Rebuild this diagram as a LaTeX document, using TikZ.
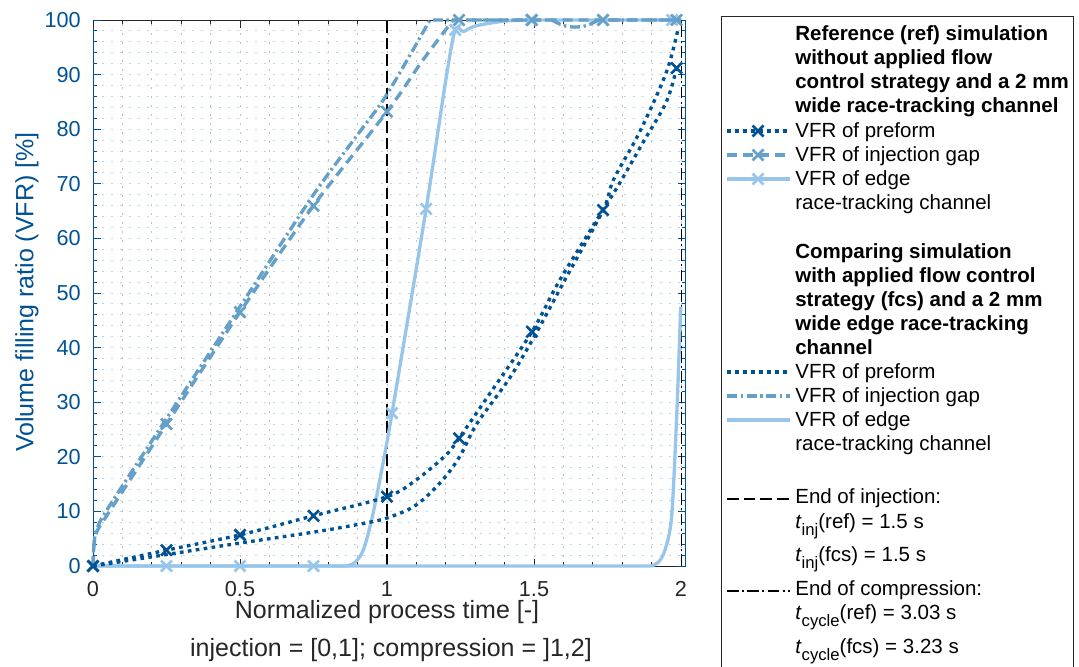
\documentclass[tikz,border=0pt]{standalone}
\usepackage{fontspec}
\setmainfont{Liberation Sans}
\definecolor{VfrDark}{RGB}{0,82,147}
\definecolor{VfrMedium}{RGB}{100,160,200}
\definecolor{VfrLight}{RGB}{152,198,234}
\definecolor{AxisGray}{RGB}{38,38,38}
\definecolor{GridGray}{RGB}{195,195,195}
\definecolor{GridBlue}{RGB}{190,214,234}

\tikzset{
  xmark/.pic={\draw[line width=1.6pt] (-3.3pt,-3.3pt) -- (3.3pt,3.3pt) (-3.3pt,3.3pt) -- (3.3pt,-3.3pt);}
}
\newcommand\tvar[1]{\textit{t}\raisebox{-0.7ex}{\fontsize{10}{11}\selectfont #1}}

\begin{document}
\begin{tikzpicture}[
    x=0.6pt, y=-0.6pt,
    ticklabel/.style={font=\fontsize{13}{15}\selectfont, text=AxisGray, inner sep=0pt},
    yticklabel/.style={ticklabel, text=VfrDark, anchor=east},
    axislabel/.style={font=\fontsize{15}{18}\selectfont, text=AxisGray, inner sep=0pt, anchor=base},
    legtext/.style={font=\fontsize{12.3}{14.5}\selectfont, text=black, anchor=base west, inner sep=0pt},
    legtitle/.style={legtext, font=\fontsize{12.3}{14.5}\selectfont\bfseries},
    preform/.style={VfrDark, line width=2pt, dash pattern=on 2.2pt off 2.6pt},
    gapref/.style={VfrMedium, line width=2pt, dash pattern=on 6pt off 3.6pt},
    gapfcs/.style={VfrMedium, line width=2pt, dash pattern=on 6pt off 2.2pt on 1.4pt off 2.2pt},
    edge/.style={VfrLight, line width=2pt},
    gridv/.style={GridGray, line width=0.6pt, dash pattern=on 1pt off 4.4pt},
    gridh/.style={GridBlue, line width=0.6pt, dash pattern=on 1pt off 4.4pt},
    injend/.style={black, line width=0.7pt, dash pattern=on 7pt off 3pt},
    cycend/.style={black, line width=0.7pt, dash pattern=on 7pt off 2pt on 1.2pt off 2pt},
    axisline/.style={line width=0.6pt}
  ]
\useasboundingbox (0,0) rectangle (1079,667);

% plot area, data coordinates
\begin{scope}[shift={(93,566)}, x=176.4pt, y=3.276pt]
  % grid
  \foreach \i in {1,...,20} \draw[gridv] (\i/10,0) -- (\i/10,100);
  \foreach \i in {1,...,49} \draw[gridh] (0,2*\i) -- (2.016,2*\i);

  % axes and ticks
  \draw[axisline, AxisGray] (0,0) -- (2.016,0);
  \draw[axisline, AxisGray] (0,100) -- (2.016,100);
  \draw[axisline, VfrDark] (0,0) -- (0,100);
  \draw[axisline, VfrDark] (2.016,0) -- (2.016,100);
  \foreach \i in {0,...,20} {
    \draw[axisline, AxisGray] (\i/10,0) -- ++(0,2.4pt);
    \draw[axisline, AxisGray] (\i/10,100) -- ++(0,-2.4pt);
  }
  \foreach \i in {0,5,...,20} {
    \draw[axisline, AxisGray] (\i/10,0) -- ++(0,4.5pt);
    \draw[axisline, AxisGray] (\i/10,100) -- ++(0,-4.5pt);
  }
  \foreach \v in {0,2,...,100} {
    \draw[axisline, VfrDark] (0,\v) -- ++(2.4pt,0);
    \draw[axisline, VfrDark] (2.016,\v) -- ++(-2.4pt,0);
  }
  \foreach \v in {0,10,...,100} {
    \draw[axisline, VfrDark] (0,\v) -- ++(4.5pt,0);
    \draw[axisline, VfrDark] (2.016,\v) -- ++(-4.5pt,0);
    \node[yticklabel] (yt\v) at ([xshift=-7.2pt]0,\v) {\v};
  }
  \foreach \v [count=\k] in {0,0.5,1,1.5,2}
    \node[ticklabel] (xt\k) at ([yshift=-13.8pt]\v,0) {\v};

  % end of injection / compression
  \draw[injend] (1,0) -- (1,100);
  \draw[cycend] (2.002,0) -- (2.002,100);

  % edge race-tracking channel
  \draw[edge] (0,0) -- (0.86,0) plot[smooth, tension=0.5] coordinates {(0.86,0) (0.89,0.6) (0.92,3) (0.95,9) (0.98,17) (1.017,28) (1.133,65.4) (1.2,89) (1.232,98.2) (1.26,97.9) (1.3,98.9) (1.4,99.8) (1.5,100)} -- (2.0,100);
  \draw[edge] (0,0) -- (1.9,0) plot[smooth, tension=0.5] coordinates {(1.9,0) (1.925,0.8) (1.946,3) (1.968,9) (1.985,27) (1.999,47.5)};
  \foreach \px/\py in {0/0,0.25/0,0.5/0,0.75/0,1.017/28,1.133/65.4,1.232/98.2,1.49/100,1.735/100,1.97/100}
    \pic[VfrLight] at (\px,\py) {xmark};

  % injection gap
  \draw[gapfcs] plot[smooth, tension=0.5] coordinates {(0,0) (0.004,4.5) (0.015,7) (0.05,10.5) (0.25,27) (0.5,47.5) (0.75,68) (0.9,79) (1.0,86.4) (1.146,100)} -- (1.56,100) plot[smooth, tension=0.5] coordinates {(1.56,100) (1.6,99) (1.64,98.7) (1.68,99) (1.72,100)} -- (2.0,100);
  \draw[gapref] plot[smooth, tension=0.5] coordinates {(0,0) (0.004,4) (0.015,6.5) (0.05,9.5) (0.25,26) (0.5,46.5) (0.75,66) (1.0,83.2) (1.12,92.5) (1.225,100)} -- (2.0,100);
  \foreach \px/\py in {0/0,0.25/26,0.5/46.5,0.75/66,1.0/83.2,1.245/100,1.493/100,1.735/100,1.985/100}
    \pic[VfrMedium] at (\px,\py) {xmark};

  % preform
  \draw[preform] plot[smooth, tension=0.55] coordinates {(0,0) (0.25,2.1) (0.5,4.2) (0.75,6.2) (0.9,7.6) (1.0,8.8) (1.1,11.2) (1.19,15.8) (1.25,20.3) (1.305,26) (1.418,34.5) (1.51,42.9) (1.605,52.4) (1.735,65.2) (1.77,70.7) (1.85,78.5) (1.92,86.5) (1.96,92) (1.99,98.3)};
  \draw[preform] plot[smooth, tension=0.55] coordinates {(0,0) (0.25,2.9) (0.5,5.7) (0.75,9.2) (1.0,12.7) (1.1,15.8) (1.2,20.3) (1.245,23.4) (1.35,31.6) (1.493,42.9) (1.588,52.4) (1.735,65.2) (1.79,70) (1.87,77.5) (1.95,85) (1.985,91.2)};
  \foreach \px/\py in {0/0,0.25/2.9,0.5/5.7,0.75/9.2,1.0/12.7,1.245/23.4,1.493/42.9,1.735/65.2,1.985/91.2}
    \pic[VfrDark] at (\px,\py) {xmark};
\end{scope}

% axis labels
\node[axislabel] (xlabel) at (387,618) {Normalized process time [-]};
\node[axislabel] (xlabeltwo) at (391,656) {injection = [0,1]; compression = ]1,2]};
\node[axislabel, anchor=center, text=VfrDark, rotate=90] (ylabel) at (27,292) {Volume filling ratio (VFR) [\%]};

% legend
\draw[axisline, AxisGray] (721,690) -- (721,16) -- (1073,16) -- (1073,690);

\node[legtitle] (refa) at (795,40) {Reference (ref) simulation};
\node[legtitle] (refb) at (795,64) {without applied flow};
\node[legtitle] (refc) at (795,88) {control strategy and a 2 mm};
\node[legtitle] (refd) at (795,112) {wide race-tracking channel};
\node[legtext] (refpre) at (795,137) {VFR of preform};
\node[legtext] (refgap) at (795,161) {VFR of injection gap};
\node[legtext] (refedge) at (795,185) {VFR of edge};
\node[legtext] (refedgeb) at (795,209) {race-tracking channel};
\draw[preform] (727,131) -- (790,131);
\pic[VfrDark] at (758,131) {xmark};
\draw[gapref] (727,155) -- (790,155);
\pic[VfrMedium] at (758,155) {xmark};
\draw[edge] (727,179) -- (790,179);
\pic[VfrLight] at (758,179) {xmark};

\node[legtitle] (fcsa) at (795,258) {Comparing simulation};
\node[legtitle] (fcsb) at (795,282) {with applied flow control};
\node[legtitle] (fcsc) at (795,306) {strategy (fcs) and a 2 mm};
\node[legtitle] (fcsd) at (795,330) {wide edge race-tracking};
\node[legtitle] (fcse) at (795,354) {channel};
\node[legtext] (fcspre) at (795,378) {VFR of preform};
\node[legtext] (fcsgap) at (795,402) {VFR of injection gap};
\node[legtext] (fcsedge) at (795,426) {VFR of edge};
\node[legtext] (fcsedgeb) at (795,450) {race-tracking channel};
\draw[preform] (727,372) -- (790,372);
\draw[gapfcs] (727,396) -- (790,396);
\draw[edge] (727,420) -- (790,420);

\node[legtext] (injtxt) at (795,503) {End of injection:};
\node[legtext] (tinjref) at (795,528) {\tvar{inj}(ref) = 1.5 s};
\node[legtext] (tinjfcs) at (795,561) {\tvar{inj}(fcs) = 1.5 s};
\node[legtext] (cyctxt) at (795,595) {End of compression:};
\node[legtext] (tcycref) at (795,619) {\tvar{cycle}(ref) = 3.03 s};
\node[legtext] (tcycfcs) at (795,653) {\tvar{cycle}(fcs) = 3.23 s};
\draw[injend] (727,499) -- (790,499);
\draw[cycend] (727,591) -- (790,591);
\end{tikzpicture}
\end{document}
